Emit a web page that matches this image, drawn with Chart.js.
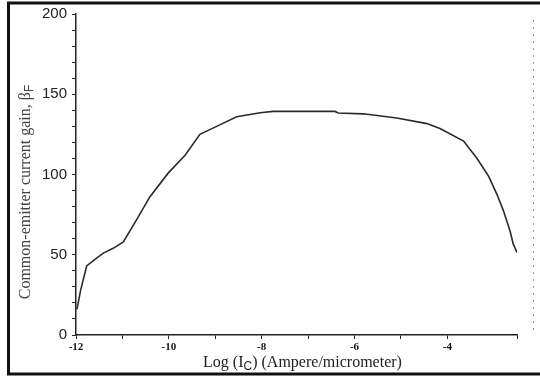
<!DOCTYPE html>
<html>
<head>
<meta charset="utf-8">
<script src="https://cdn.jsdelivr.net/npm/chart.js@4"></script>
<style>
  html, body { margin: 0; padding: 0; background: #fff; }
  #wrap { width: 540px; height: 379px; }
</style>
</head>
<body>
<div id="wrap"><canvas id="gainChart" width="540" height="379"></canvas></div>
<script>
// log10 of collector current (A/um) and common-emitter gain
const logIc = [-11.98, -11.9, -11.77, -11.55, -11.41, -11.2, -10.98, -10.69, -10.41, -10.01,
               -9.65, -9.33, -8.97, -8.54, -8.03, -7.75, -7.0, -6.42, -6.35, -5.81,
               -5.09, -4.44, -4.16, -3.65, -3.36, -3.11, -2.93, -2.79, -2.65, -2.58, -2.5];
const betaF = [16, 28, 43, 48, 51, 54, 58, 72, 86, 101,
               112, 125, 130, 136, 138.5, 139.3, 139.3, 139.3, 138.3, 137.8,
               135.2, 131.7, 128.6, 120.8, 110, 98.8, 87.5, 77.2, 64.8, 56.6, 51.4];

const xMin = -12, xMax = -2.5;
const yMin = 0, yMax = 200;
const yLabelTicks = [0, 50, 100, 150, 200];
const xLabelTicks = [-12, -10, -8, -6, -4];

const points = logIc.map((x, i) => ({ x: x, y: betaF[i] }));

// frame, titles with subscripts
const decor = {
    id: 'decor',
    afterDraw(chart) {
        const ctx = chart.ctx;
        const area = chart.chartArea;
        ctx.save();
        ctx.strokeStyle = '#111';
        ctx.lineWidth = 3;
        ctx.beginPath();
        ctx.moveTo(540, 3);
        ctx.lineTo(8.5, 3);
        ctx.lineTo(8.5, 374);
        ctx.lineTo(540, 374);
        ctx.stroke();

        // faint right axis remnant
        ctx.strokeStyle = '#999';
        ctx.lineWidth = 1;
        ctx.setLineDash([2, 5]);
        ctx.beginPath();
        ctx.moveTo(533.5, 20);
        ctx.lineTo(533.5, area.bottom);
        ctx.stroke();
        ctx.setLineDash([]);

        // x title
        ctx.fillStyle = '#222';
        ctx.textBaseline = 'alphabetic';
        const serif = '16px "Liberation Serif", "Times New Roman", serif';
        const sub = '12px "Liberation Sans", Arial, sans-serif';
        const parts = [['Log (I', serif, 0], ['C', sub, 3], [') (Ampere/micrometer)', serif, 0]];
        let total = 0;
        parts.forEach(p => { ctx.font = p[1]; total += ctx.measureText(p[0]).width; });
        let x = (area.left + area.right) / 2 - total / 2 + 6;
        const baseY = 367;
        parts.forEach(p => {
            ctx.font = p[1];
            ctx.fillText(p[0], x, baseY + p[2]);
            x += ctx.measureText(p[0]).width;
        });

        // y title
        ctx.translate(30, 192);
        ctx.rotate(-Math.PI / 2);
        ctx.fillStyle = '#444';
        const yparts = [['Common-emitter current gain, \u03b2', serif, 0], ['F', sub, 3]];
        total = 0;
        yparts.forEach(p => { ctx.font = p[1]; total += ctx.measureText(p[0]).width; });
        x = -total / 2;
        yparts.forEach(p => {
            ctx.font = p[1];
            ctx.fillText(p[0], x, p[2]);
            x += ctx.measureText(p[0]).width;
        });
        ctx.restore();
    }
};

new Chart(document.getElementById('gainChart'), {
    type: 'line',
    data: {
        datasets: [{
            data: points,
            borderColor: '#2a2a2a',
            borderWidth: 1.6,
            pointRadius: 0,
            tension: 0,
            fill: false
        }]
    },
    options: {
        responsive: false,
        animation: false,
        layout: { padding: { left: 12, right: 23, top: 13, bottom: 6 } },
        plugins: {
            legend: { display: false },
            tooltip: { enabled: false }
        },
        scales: {
            x: {
                type: 'linear',
                min: xMin,
                max: xMax,
                border: { color: '#222', width: 1.5 },
                grid: { drawOnChartArea: false, tickLength: 4, color: '#222' },
                ticks: {
                    stepSize: 1,
                    autoSkip: false,
                    maxRotation: 0,
                    padding: 2,
                    color: '#111',
                    font: { family: '"Liberation Serif", serif', size: 11, weight: 'bold' },
                    callback: v => xLabelTicks.includes(v) ? String(v) : ''
                },
                afterFit(scale) { scale.height = 38; }
            },
            y: {
                min: yMin,
                max: yMax,
                border: { color: '#222', width: 1.5 },
                grid: { drawOnChartArea: false, tickLength: 4, color: '#222' },
                ticks: {
                    stepSize: 10,
                    autoSkip: false,
                    padding: 5,
                    color: '#222',
                    font: { family: '"Liberation Sans", Arial, sans-serif', size: 15 },
                    callback: v => yLabelTicks.includes(v) ? String(v) : ''
                },
                afterFit(scale) { scale.width = 64; }
            }
        }
    },
    plugins: [decor]
});
</script>
</body>
</html>
